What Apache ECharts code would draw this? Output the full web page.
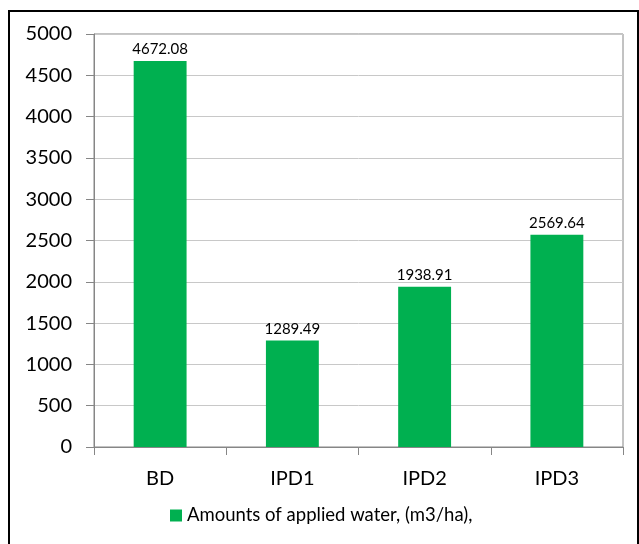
<!DOCTYPE html>
<html>
<head>
<meta charset="utf-8">
<script src="https://cdn.jsdelivr.net/npm/echarts@6/dist/echarts.min.js"></script>
<style>
  html, body { margin: 0; padding: 0; background: #fff; }
  #chart { width: 639px; height: 544px; }
</style>
</head>
<body>
<div id="chart"></div>
<script>
// treatments and water applied
var categories = ['BD', 'IPD1', 'IPD2', 'IPD3'];
var waterValues = [4672.08, 1289.49, 1938.91, 2569.64];
var seriesName = 'Amounts of applied water, (m3/ha),';

var myChart = echarts.init(document.getElementById('chart'));
var fontFamily = 'Lato, "Open Sans", sans-serif';

myChart.setOption({
    animation: false,
    textStyle: { fontFamily: fontFamily },
    graphic: [{
        type: 'rect',
        shape: { x: 9, y: 11, width: 629, height: 560 },
        style: { fill: 'none', stroke: '#000', lineWidth: 2 },
        silent: true
    }],
    grid: {
        left: 94, right: 16, top: 34, bottom: 97,
        show: true, borderColor: '#868686', borderWidth: 1
    },
    legend: {
        bottom: 14,
        left: 165,
        itemWidth: 12,
        itemHeight: 12,
        itemGap: 6,
        icon: 'rect',
        textStyle: { fontSize: 18.5, color: '#000', fontFamily: fontFamily }
    },
    xAxis: {
        type: 'category',
        data: categories,
        axisLine: { lineStyle: { color: '#868686', width: 1 } },
        axisTick: { show: true, length: 8, lineStyle: { color: '#868686' } },
        axisLabel: { fontSize: 20, color: '#000', margin: 22 }
    },
    yAxis: {
        type: 'value',
        min: 0,
        max: 5000,
        interval: 500,
        axisLine: { show: true, lineStyle: { color: '#868686', width: 1 } },
        axisTick: { show: true, length: 8, lineStyle: { color: '#868686' } },
        axisLabel: {
            fontSize: 20, color: '#000', margin: 22,
            formatter: function (v) { return String(v); }
        },
        splitLine: { lineStyle: { color: '#c8c8c8', width: 1 } }
    },
    series: [{
        name: seriesName,
        type: 'bar',
        data: waterValues,
        barWidth: '40%',
        itemStyle: { color: '#00b050' },
        label: {
            show: true,
            position: 'top',
            distance: 4,
            fontSize: 15,
            color: '#000',
            formatter: function (p) { return p.value.toFixed(2); }
        }
    }]
});
</script>
</body>
</html>
